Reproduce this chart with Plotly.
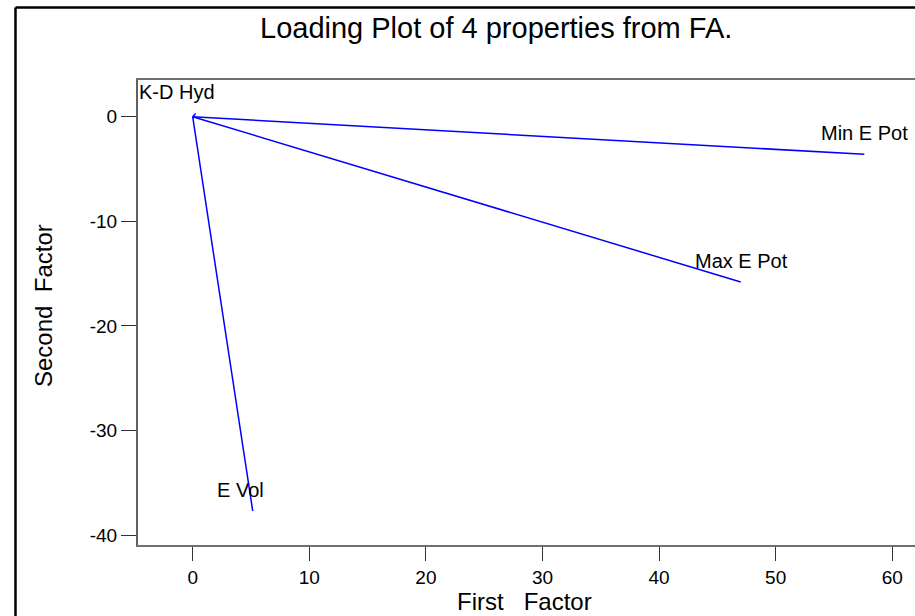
import plotly.graph_objects as go

# Loadings (first factor, second factor)
names = ["K-D Hyd", "Min E Pot", "Max E Pot", "E Vol"]
first_factor = [0.25, 57.6, 47.0, 5.15]
second_factor = [0.3, -3.6, -15.8, -37.7]

# label positions (data coords)
label_x = [-1.35, 57.65, 47.07, 4.1]
label_y = [2.36, -1.53, -13.8, -35.7]

x_ticks = [0, 10, 20, 30, 40, 50, 60]
y_ticks = [0, -10, -20, -30, -40]
y_tick_text = ["0", "-10", "-20", "-30", "-40"]

title_text = "Loading Plot of 4 properties from FA."
x_title = "First\u00a0\u00a0\u00a0Factor"
y_title = "Second\u00a0\u00a0Factor"

FONT = "Liberation Sans, Arial, sans-serif"

fig = go.Figure()
for n, xe, ye in zip(names, first_factor, second_factor):
    fig.add_trace(go.Scatter(
        x=[0, xe], y=[0, ye], mode="lines", name=n,
        line=dict(color="#0000FF", width=1.5), showlegend=False,
    ))

annotations = []
for n, lx, ly in zip(names, label_x, label_y):
    annotations.append(dict(
        x=lx, y=ly, xref="x", yref="y", text=n, showarrow=False,
        xanchor="center", yanchor="middle",
        font=dict(family=FONT, size=20, color="black"),
    ))

L, T, W, H = 138, 80, 777, 465
annotations.append(dict(
    x=(496 - L) / W, y=(545 - 28) / H, xref="paper", yref="paper",
    text=title_text, showarrow=False, xanchor="center", yanchor="middle",
    font=dict(family=FONT, size=29, color="black"),
))
annotations.append(dict(
    x=(43 - L) / W, y=(545 - 306) / H, xref="paper", yref="paper",
    text=y_title, showarrow=False, xanchor="center", yanchor="middle",
    textangle=-90, font=dict(family=FONT, size=24, color="black"),
))
annotations.append(dict(
    x=(524 - L) / W, y=(545 - 601) / H, xref="paper", yref="paper",
    text=x_title, showarrow=False, xanchor="center", yanchor="middle",
    font=dict(family=FONT, size=24, color="black"),
))

shapes = [
    # outer figure frame (top and left edges visible)
    dict(type="line", xref="paper", yref="paper",
         x0=(15.5 - L) / W, x1=1.2, y0=(545 - 7.5) / H, y1=(545 - 7.5) / H,
         line=dict(color="black", width=2.5)),
    dict(type="line", xref="paper", yref="paper",
         x0=(15.5 - L) / W, x1=(15.5 - L) / W, y0=(545 - 7.5) / H, y1=-0.3,
         line=dict(color="black", width=2.5)),
]

fig.update_layout(
    width=915, height=616, autosize=False,
    margin=dict(l=L, r=0, t=T, b=616 - 545, pad=0),
    paper_bgcolor="white", plot_bgcolor="white",
    showlegend=False,
    annotations=annotations,
    shapes=shapes,
    font=dict(family=FONT, size=19, color="black"),
    xaxis=dict(
        range=[-4.69, 61.95], tickvals=x_ticks, showgrid=False, zeroline=False,
        showline=True, linecolor="#707070", linewidth=2, mirror=True,
        ticks="outside", ticklen=14, tickcolor="#333333", tickwidth=1.2,
        tickfont=dict(family=FONT, size=19, color="black"),
    ),
    yaxis=dict(
        range=[-40.95, 3.51], tickvals=y_ticks, ticktext=y_tick_text,
        showgrid=False, zeroline=False,
        showline=True, linecolor="#606060", linewidth=2, mirror=False,
        ticks="outside", ticklen=15, tickcolor="#333333", tickwidth=1.2,
        tickfont=dict(family=FONT, size=19, color="black"),
    ),
)

fig.write_html("out.html")
